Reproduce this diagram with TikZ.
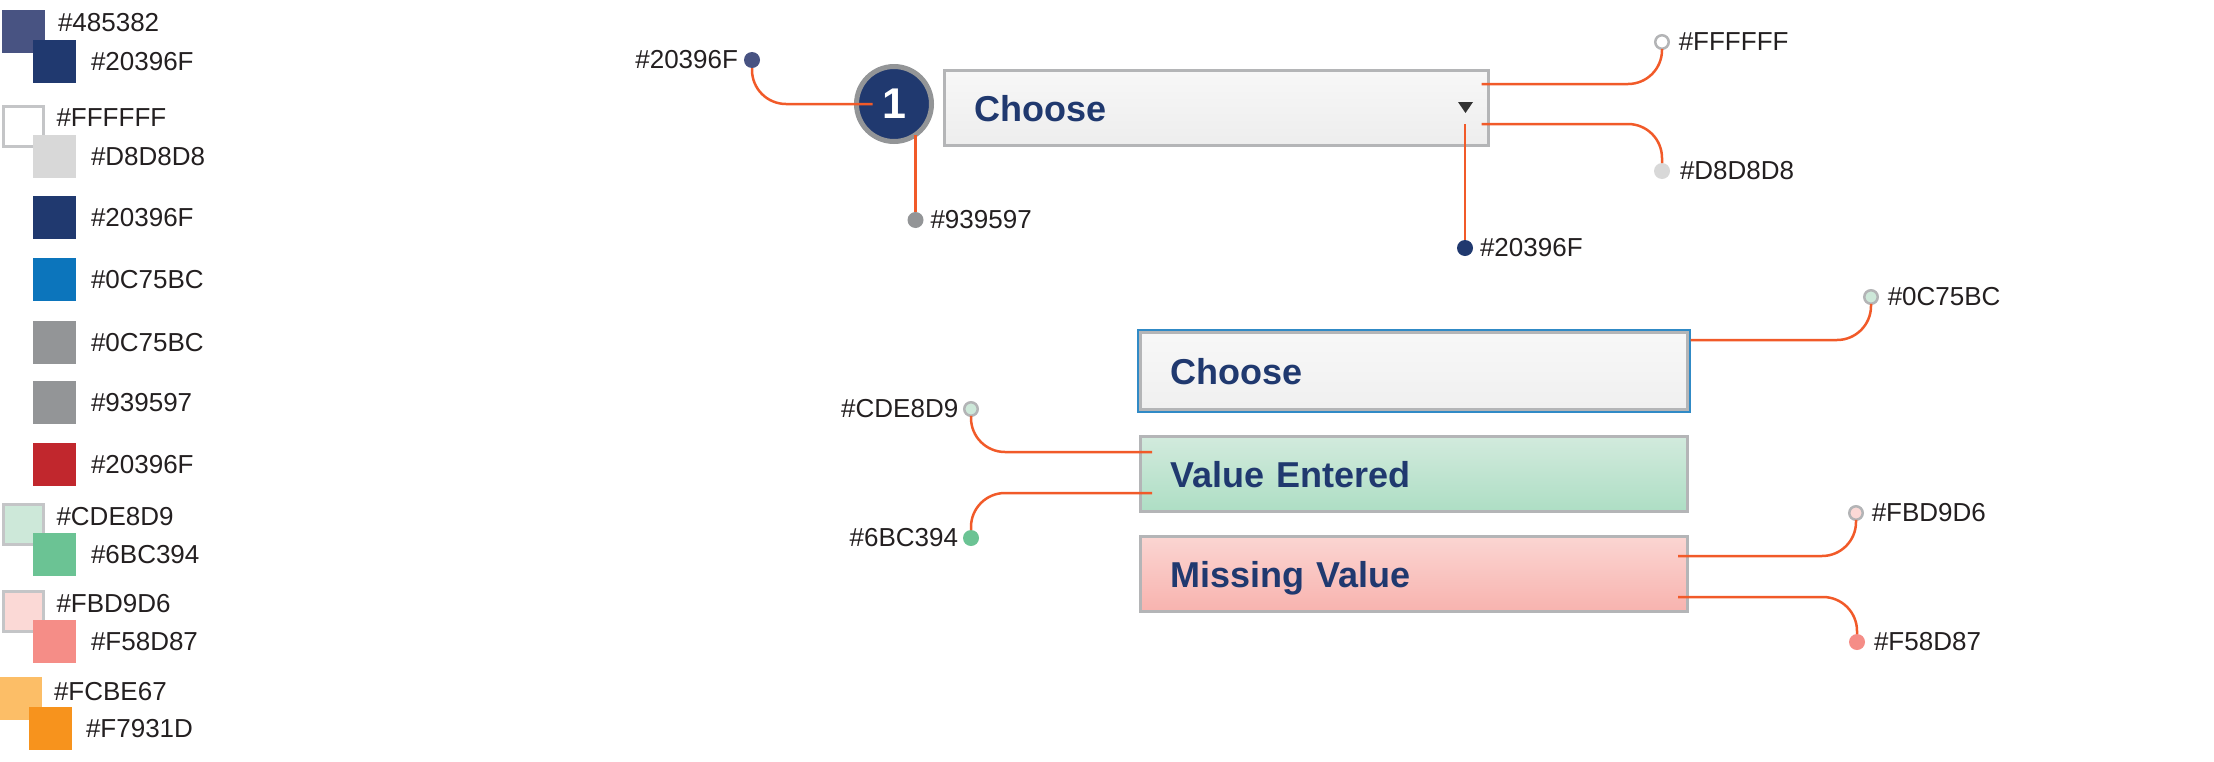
\documentclass[tikz,border=0pt]{standalone}
\usepackage{fontspec}
\setmainfont{Liberation Sans}
\usetikzlibrary{positioning}
\definecolor{navy}{HTML}{20396F}
\definecolor{slate}{HTML}{485382}
\definecolor{lightgray}{HTML}{D8D8D8}
\definecolor{azure}{HTML}{0C75BC}
\definecolor{midgray}{HTML}{939597}
\definecolor{alert}{HTML}{C1272D}
\definecolor{mint}{HTML}{CDE8D9}
\definecolor{jade}{HTML}{6BC394}
\definecolor{blush}{HTML}{FBD9D6}
\definecolor{salmon}{HTML}{F58D87}
\definecolor{apricot}{HTML}{FCBE67}
\definecolor{tangerine}{HTML}{F7931D}
\definecolor{rim}{HTML}{C4C5C7}
\definecolor{dotrim}{HTML}{B3B4B6}
\definecolor{fieldrim}{HTML}{B4B5B7}
\definecolor{wirecol}{HTML}{F15A29}
\definecolor{hextext}{HTML}{231F20}
\definecolor{caretgray}{HTML}{333333}
\begin{document}
\begin{tikzpicture}[x=1pt,y=-1pt,
      every node/.append style={inner sep=0pt,outer sep=0pt},
      hex/.style={font=\fontsize{26}{30}\selectfont,text=hextext},
      swatch/.style={minimum size=43pt},
      emptyswatch/.style={draw=rim,line width=3pt,minimum size=40pt},
      field/.style={draw=fieldrim,line width=3pt,minimum height=75pt,inner xsep=30pt,
        align=left,text depth=0pt,text=navy,font=\fontsize{36}{40}\selectfont\bfseries},
      dot/.style={circle,minimum size=16pt},
      ringdot/.style={circle,draw=dotrim,line width=2.5pt,minimum size=13.5pt},
      wire/.style={draw=wirecol,line width=2.5pt,rounded corners=34pt}]
    \useasboundingbox (0,0) rectangle (2214,761);
    \node (sqA) [swatch,fill=slate] at (23.5,31.5) {};
    \node (sqB) [swatch,fill=navy] at (54.5,61.5) {};
    \node (lblA) [hex,right=13pt of sqA,yshift=9pt] {\#485382};
    \node (lblB) [hex,right=15pt of sqB] {\#20396F};
    \node (sqC) [emptyswatch,fill=white] at (23.5,126.5) {};
    \node (sqD) [swatch,fill=lightgray] at (54.5,156.5) {};
    \node (lblC) [hex,right=13pt of sqC,yshift=9pt] {\#FFFFFF};
    \node (lblD) [hex,right=15pt of sqD] {\#D8D8D8};
    \node (sqE) [swatch,fill=navy] at (54.5,217.5) {};
    \node (lblE) [hex,right=15pt of sqE] {\#20396F};
    \node (sqF) [swatch,fill=azure] at (54.5,279.5) {};
    \node (lblF) [hex,right=15pt of sqF] {\#0C75BC};
    \node (sqG) [swatch,fill=midgray] at (54.5,342.5) {};
    \node (lblG) [hex,right=15pt of sqG] {\#0C75BC};
    \node (sqH) [swatch,fill=midgray] at (54.5,402.5) {};
    \node (lblH) [hex,right=15pt of sqH] {\#939597};
    \node (sqI) [swatch,fill=alert] at (54.5,464.5) {};
    \node (lblI) [hex,right=15pt of sqI] {\#20396F};
    \node (sqJ) [emptyswatch,fill=mint] at (23.5,524.5) {};
    \node (sqK) [swatch,fill=jade] at (54.5,554.5) {};
    \node (lblJ) [hex,right=13pt of sqJ,yshift=8pt] {\#CDE8D9};
    \node (lblK) [hex,right=15pt of sqK] {\#6BC394};
    \node (sqL) [emptyswatch,fill=blush] at (23.5,611.5) {};
    \node (sqM) [swatch,fill=salmon] at (54.5,641.5) {};
    \node (lblL) [hex,right=13pt of sqL,yshift=8pt] {\#FBD9D6};
    \node (lblM) [hex,right=15pt of sqM] {\#F58D87};
    \node (sqN) [swatch,fill=apricot] at (20.5,698.5) {};
    \node (sqO) [swatch,fill=tangerine] at (50.5,728.5) {};
    \node (lblN) [hex,right=12pt of sqN,yshift=7pt] {\#FCBE67};
    \node (lblO) [hex,right=14pt of sqO] {\#F7931D};

    \node (num) [circle,fill=navy,draw=midgray,line width=5pt,minimum size=75pt,text=white,
      font=\fontsize{43}{46}\selectfont\bfseries] at (894,104) {1};
    \node (box1) [field,text width=484pt,top color=white!97!black,bottom color=black!7] at (1216.5,108) {Choose};
    \fill[caretgray] (1458,102) -- (1473,102) -- (1465.5,113) -- cycle;
    \node (box2) [field,text width=487pt,minimum height=77pt,preaction={draw=azure!85!white,line width=7pt},
      top color=white!97!black,bottom color=black!6] at (1414,371) {Choose};
    \node (box3) [field,text width=487pt,top color=mint!90!white,bottom color=jade!55!white] at (1413.5,474) {Value Entered};
    \node (box4) [field,text width=487pt,top color=blush!95!salmon,bottom color=salmon!50!blush] at (1413.5,574) {Missing Value};

    \node (d1) [dot,fill=slate] at (752,60) {};
    \node (d939) [dot,fill=midgray] at (num.-55 |- 0,220) {};
    \node (dFFF) [ringdot,fill=white] at (1662,42) {};
    \node (dD8) [dot,fill=lightgray] at (1662,171) {};
    \node (d20b) [dot,fill=navy] at (1465,248) {};
    \node (d0C) [ringdot,fill=mint] at (1871,297) {};
    \node (dCD) [ringdot,fill=mint] at (971,409) {};
    \node (d6B) [dot,fill=jade] at (971,538) {};
    \node (dFB) [ringdot,fill=blush] at (1856,513) {};
    \node (dF5) [dot,fill=salmon] at (1857,642) {};

    \node (t1) [hex,left=6pt of d1] {\#20396F};
    \node (t939) [hex,right=7pt of d939] {\#939597};
    \node (tFFF) [hex,right=10pt of dFFF] {\#FFFFFF};
    \node (tD8) [hex,right=10pt of dD8] {\#D8D8D8};
    \node (t20b) [hex,right=7pt of d20b] {\#20396F};
    \node (t0C) [hex,right=10pt of d0C] {\#0C75BC};
    \node (tCD) [hex,left=6pt of dCD] {\#CDE8D9};
    \node (t6B) [hex,left=5pt of d6B] {\#6BC394};
    \node (tFB) [hex,right=9pt of dFB] {\#FBD9D6};
    \node (tF5) [hex,right=9pt of dF5] {\#F58D87};

    \coordinate (numin) at ([xshift=16pt]num.west);
    \coordinate (caretfoot) at (1465,124);
    \coordinate (b1hi) at ([xshift=-7pt,yshift=24pt]box1.east);
    \coordinate (b1lo) at ([xshift=-7pt,yshift=-16pt]box1.east);
    \coordinate (b2out) at ([xshift=3pt,yshift=31pt]box2.east);
    \coordinate (b3hi) at ([xshift=12pt,yshift=22pt]box3.west);
    \coordinate (b3lo) at ([xshift=12pt,yshift=-19pt]box3.west);
    \coordinate (b4hi) at ([xshift=-9pt,yshift=18pt]box4.east);
    \coordinate (b4lo) at ([xshift=-9pt,yshift=-23pt]box4.east);

    \draw[wire] (d1) |- (numin);
    \draw[wire] (num.-55) -- (d939);
    \draw[wire] (b1hi) -| (dFFF);
    \draw[wire] (b1lo) -| (dD8);
    \draw[wire] (caretfoot) -- (d20b);
    \draw[wire] (b2out) -| (d0C);
    \draw[wire] (dCD) |- (b3hi);
    \draw[wire] (b3lo) -| (d6B);
    \draw[wire] (b4hi) -| (dFB);
    \draw[wire] (b4lo) -| (dF5);
\end{tikzpicture}
\end{document}
